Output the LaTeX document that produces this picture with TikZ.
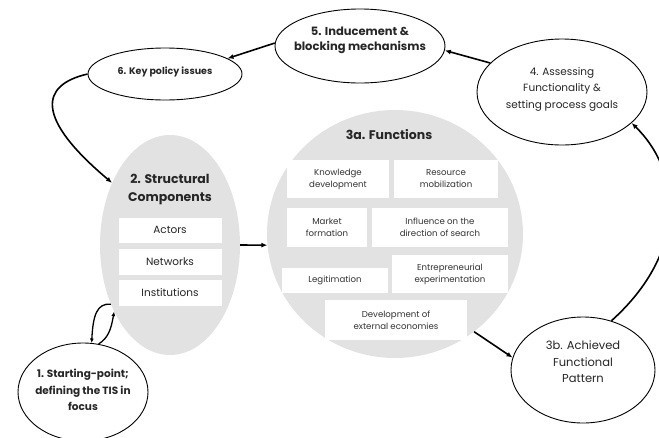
\documentclass[tikz,border=0pt]{standalone}
\usepackage{fontspec}
\setmainfont{Poppins}
\usetikzlibrary{shapes.geometric,arrows.meta}
\definecolor{greyfill}{HTML}{E2E2E2}
\tikzset{
  oval/.style={draw=black, line width=0.9pt, ellipse, fill=white, inner sep=0pt},
  greyoval/.style={ellipse, fill=greyfill, draw=none, inner sep=0pt},
  ovaltext/.style={align=center, text=black!85},
  titletext/.style={align=center, font=\fontsize{12.5}{18}\selectfont\bfseries, text=black!85},
  sbox/.style={fill=white, draw=none, inner sep=0pt, align=center, font=\fontsize{10.5}{12}\selectfont, text=black!85},
  fbox/.style={fill=white, draw=none, inner sep=0pt, align=center, font=\fontsize{8.6}{12}\selectfont, text=black!80},
  conn/.style={line width=1.6pt, -{Latex[length=6pt,width=5pt]}},
  connsmall/.style={line width=1.3pt, -{Latex[length=4.5pt,width=4pt]}}
}
\begin{document}
\begin{tikzpicture}[x=1pt,y=-1pt]
\useasboundingbox (0,0) rectangle (659,437);
% grey ovals
\node[greyoval, minimum width=140pt, minimum height=220pt] (g2) at (170,245) {};
\node[greyoval, minimum width=256pt, minimum height=248pt] (g3) at (395,234) {};
% structural components
\node[titletext] (t2) at (170,189) {2. Structural\\Components};
\node[sbox, minimum width=103pt, minimum height=25pt] (actors) at (170,230) {Actors};
\node[sbox, minimum width=103pt, minimum height=26pt] (networks) at (170,262) {Networks};
\node[sbox, minimum width=103pt, minimum height=26pt] (institutions) at (170,293) {Institutions};
% functions
\node[titletext] (t3) at (389,135) {3a. Functions};
\node[fbox, minimum width=102pt, minimum height=38pt] (f1) at (338,179) {Knowledge\\development};
\node[fbox, minimum width=104pt, minimum height=38pt] (f2) at (446,179) {Resource\\mobilization};
\node[fbox, minimum width=80pt, minimum height=39pt] (f3) at (327,227.5) {Market\\formation};
\node[fbox, minimum width=136pt, minimum height=39pt] (f4) at (440,227.5) {Influence on the\\direction of search};
\node[fbox, minimum width=106pt, minimum height=25pt] (f5) at (335,280.5) {Legitimation};
\node[fbox, minimum width=116pt, minimum height=38pt] (f6) at (450,274) {Entrepreneurial\\experimentation};
\node[fbox, minimum width=142pt, minimum height=40pt] (f7) at (396,320) {Development of\\external economies};
% white ovals
\node[oval, minimum width=170pt, minimum height=74pt] (e5) at (360,46) {};
\node[ovaltext, font=\fontsize{11.5}{15}\selectfont\bfseries] (t5) at (360,40) {5. Inducement \&\\blocking mechanisms};
\node[oval, minimum width=154pt, minimum height=52pt] (e6) at (165,74) {};
\node[ovaltext, font=\fontsize{9.5}{15}\selectfont\bfseries] (t6) at (165,72) {6. Key policy issues};
\node[oval, minimum width=170pt, minimum height=106pt] (e4) at (562,92) {};
\node[ovaltext, font=\fontsize{10.5}{16.5}\selectfont] (t4) at (562,89) {4. Assessing\\Functionality \&\\setting process goals};
\node[oval, minimum width=144pt, minimum height=106pt] (e3b) at (583,370) {};
\node[ovaltext, font=\fontsize{11.5}{16.5}\selectfont] (t3b) at (583,362) {3b. Achieved\\Functional\\Pattern};
\node[oval, minimum width=130pt, minimum height=98pt] (e1) at (83,392) {};
\node[ovaltext, font=\fontsize{10.5}{16.5}\selectfont\bfseries] (t1) at (83,390) {1. Starting-point;\\defining the TIS in\\focus};
% connectors
\draw[conn] (e4.158) -- (e5.-3);
\draw[conn] (e5.178) -- (e6.14);
\draw[conn] (e6.180) .. controls (40,85) and (35,118) .. (g2.133);
\draw[conn] (g2.east) -- (g3.185);
\draw[conn] (g3.-51) -- (e3b.170);
\draw[conn] (e3b.60) .. controls (690,250) and (680,170) .. (e4.-24);
\draw[connsmall] (g2.-135) .. controls (97,303) and (93,315) .. (e1.80);
\draw[connsmall] (e1.72) .. controls (108,338) and (111,330) .. (g2.-130);
\end{tikzpicture}
\end{document}
